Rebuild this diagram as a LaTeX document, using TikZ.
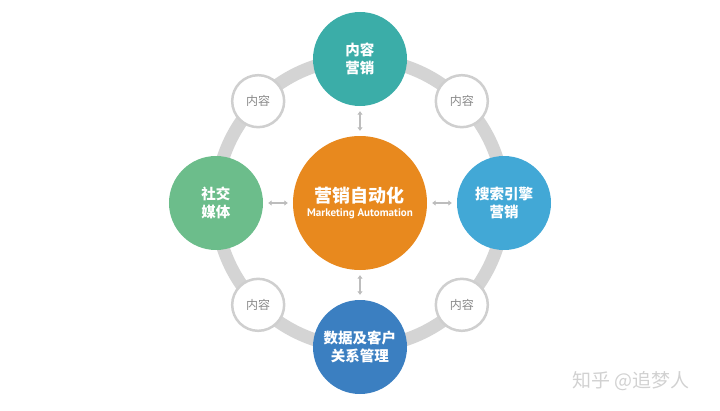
\documentclass[tikz,border=0pt]{standalone}
\usepackage{fontspec}
\setmainfont{Noto Sans CJK SC}
\newfontfamily\cjk{Noto Sans CJK SC}
\newfontfamily\latinbold{PT Sans}
\usetikzlibrary{arrows.meta}
\definecolor{ringgray}{HTML}{D4D4D4}
\definecolor{rimgray}{HTML}{CFCFCF}
\definecolor{arrowgray}{HTML}{BDBDBD}
\definecolor{labelgray}{HTML}{8A8A8A}
\definecolor{autoorange}{HTML}{E8891E}
\definecolor{contentteal}{HTML}{3BADA8}
\definecolor{socialgreen}{HTML}{6CBD8B}
\definecolor{searchblue}{HTML}{42A8D6}
\definecolor{crmblue}{HTML}{3B7FC1}
\begin{document}
\begin{tikzpicture}[x=1pt,y=1pt,
    bigdisc/.style={circle,inner sep=0pt,minimum size=94pt,text=white,align=center,
        font={\cjk\bfseries\fontsize{14.5}{18}\selectfont}},
    smalldisc/.style={draw=rimgray,line width=2.5pt,circle,fill=white,inner sep=0pt,
        minimum size=52pt,text=labelgray,font={\cjk\fontsize{12}{14}\selectfont}},
    link/.style={arrowgray,line width=1.5pt,{Triangle[length=3.5pt,width=5pt]}-{Triangle[length=3.5pt,width=5pt]},
        shorten <=5pt,shorten >=5pt}]
        \useasboundingbox (-360,-207) rectangle (360,203);
        %% Ring
        \draw[ringgray,line width=13pt] (0,0) circle (144);
        %% Centre
        \node[circle,fill=autoorange,inner sep=0pt,minimum size=134pt,text=white,align=center] (auto) at (0,0)
            {{\cjk\bfseries\fontsize{18}{18}\selectfont 营销自动化}\\[2pt]{\latinbold\bfseries\fontsize{11}{12}\selectfont Marketing Automation}};
        %% Channels
        \node[bigdisc,fill=contentteal] (content) at (90:144) {内容\\营销};
        \node[bigdisc,fill=socialgreen] (social) at (180:144) {社交\\媒体};
        \node[bigdisc,fill=searchblue] (search) at (0:144) {搜索引擎\\营销};
        \node[bigdisc,fill=crmblue] (crm) at (270:144) {数据及客户\\关系管理};
        %% Small circles
        \node[smalldisc] (c1) at (135:144) {内容};
        \node[smalldisc] (c2) at (45:144) {内容};
        \node[smalldisc] (c3) at (225:144) {内容};
        \node[smalldisc] (c4) at (315:144) {内容};
        %% Links
        \draw[link] (auto) -- (content);
        \draw[link] (auto) -- (social);
        \draw[link] (auto) -- (search);
        \draw[link] (auto) -- (crm);
        %% Watermark
        \node[text=black!18,font={\cjk\fontsize{19}{20}\selectfont}] (mark) at (271,-178) {知乎 @追梦人};
    \end{tikzpicture}
\end{document}
